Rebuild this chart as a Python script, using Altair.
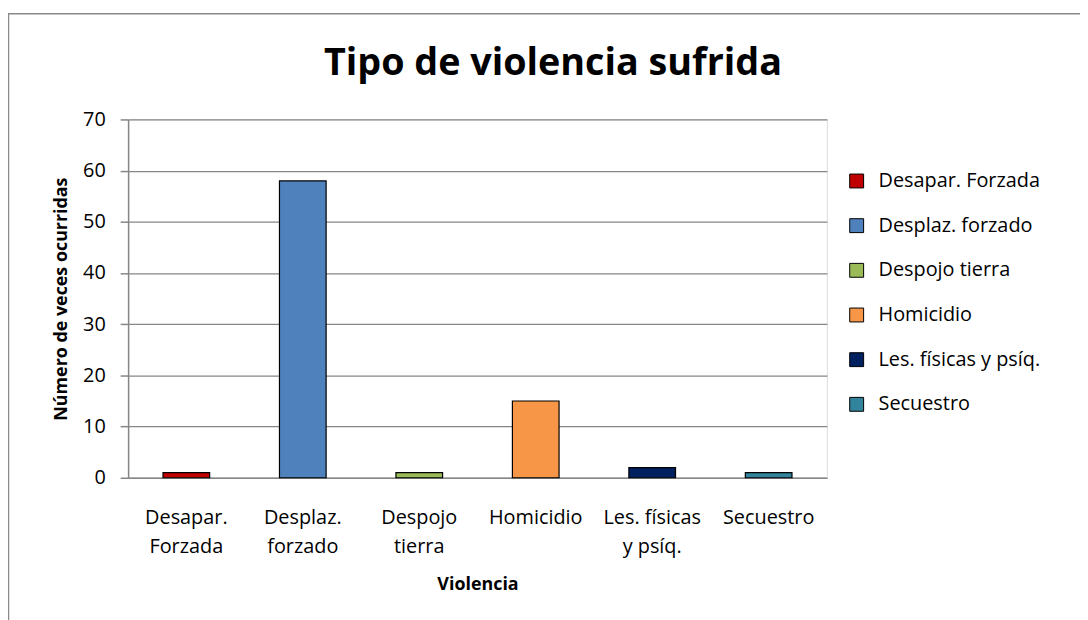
import json
import altair as alt
import pandas as pd

chart_title = "Tipo de violencia sufrida"
categories = ["Desapar. Forzada", "Desplaz. forzado", "Despojo tierra",
              "Homicidio", "Les. físicas y psíq.", "Secuestro"]
axis_labels = ["Desapar.|Forzada", "Desplaz.|forzado", "Despojo|tierra",
               "Homicidio", "Les. físicas|y psíq.", "Secuestro"]
values = [1, 58, 1, 15, 2, 1]
colors = ["#C00000", "#4F81BD", "#9BBB59", "#F79646", "#002060", "#31849B"]
y_ticks = [0, 10, 20, 30, 40, 50, 60, 70]

df = pd.DataFrame({"Violencia": categories, "Veces": values})

FONT = "Open Sans"
GRAY = "#868686"

label_expr = ("split(" + json.dumps(axis_labels, ensure_ascii=False) + "[indexof("
              + json.dumps(categories, ensure_ascii=False) + ", datum.value)], '|')")

one = pd.DataFrame({"t": [chart_title]})

frame = alt.Chart(one).mark_rect(
    fillOpacity=0, stroke="#8a8a8a", strokeWidth=1.5
).encode(
    x=alt.value(-120.5), x2=alt.value(1200),
    y=alt.value(-106.5), y2=alt.value(900)
)

title = alt.Chart(one).mark_text(
    font=FONT, fontSize=38, fontWeight="bold", color="black",
    align="center", baseline="alphabetic"
).encode(text="t:N", x=alt.value(428), y=alt.value(-45))

bars = alt.Chart(df).mark_bar(size=47, stroke="black", strokeWidth=1.2).encode(
    x=alt.X("Violencia:N", sort=categories,
            scale=alt.Scale(paddingInner=0, paddingOuter=0),
            axis=alt.Axis(title="Violencia", labelAngle=0, labelExpr=label_expr,
                          labelFont=FONT, labelFontSize=20, labelColor="black",
                          labelLineHeight=29, labelPadding=30, labelBaseline="top",
                          ticks=False, domainColor=GRAY, domainWidth=1.5,
                          titleFont=FONT, titleFontSize=18, titleFontWeight="bold",
                          titleColor="black", titlePadding=20, grid=False)),
    y=alt.Y("Veces:Q", scale=alt.Scale(domain=[0, 70], nice=False),
            axis=alt.Axis(title="Número de veces ocurridas", values=y_ticks,
                          labelFont=FONT, labelFontSize=20, labelColor="black",
                          labelPadding=15, tickSize=8, tickColor=GRAY, tickWidth=1.5,
                          domainColor=GRAY, domainWidth=1.5,
                          gridColor=GRAY, gridWidth=1.2,
                          titleFont=FONT, titleFontSize=18, titleFontWeight="bold",
                          titleColor="black", titlePadding=12)),
    color=alt.Color("Violencia:N", sort=categories,
                    scale=alt.Scale(domain=categories, range=colors),
                    legend=alt.Legend(title=None, orient="none", legendX=724, legendY=52,
                                      symbolType="square", symbolSize=196,
                                      symbolStrokeColor="black", symbolStrokeWidth=1,
                                      symbolOpacity=1, labelLimit=400,
                                      labelFont=FONT, labelFontSize=20, labelColor="black",
                                      labelOffset=12, rowPadding=25, padding=0))
)

chart = alt.layer(frame, bars, title).properties(
    width=704, height=361,
    autosize=alt.AutoSizeParams(type="none"),
    padding={"left": 121, "top": 110, "right": 255, "bottom": 141},
).configure_view(stroke=None).configure(background="white")

chart.save("out.html", embed_options={"renderer": "svg", "actions": False})
